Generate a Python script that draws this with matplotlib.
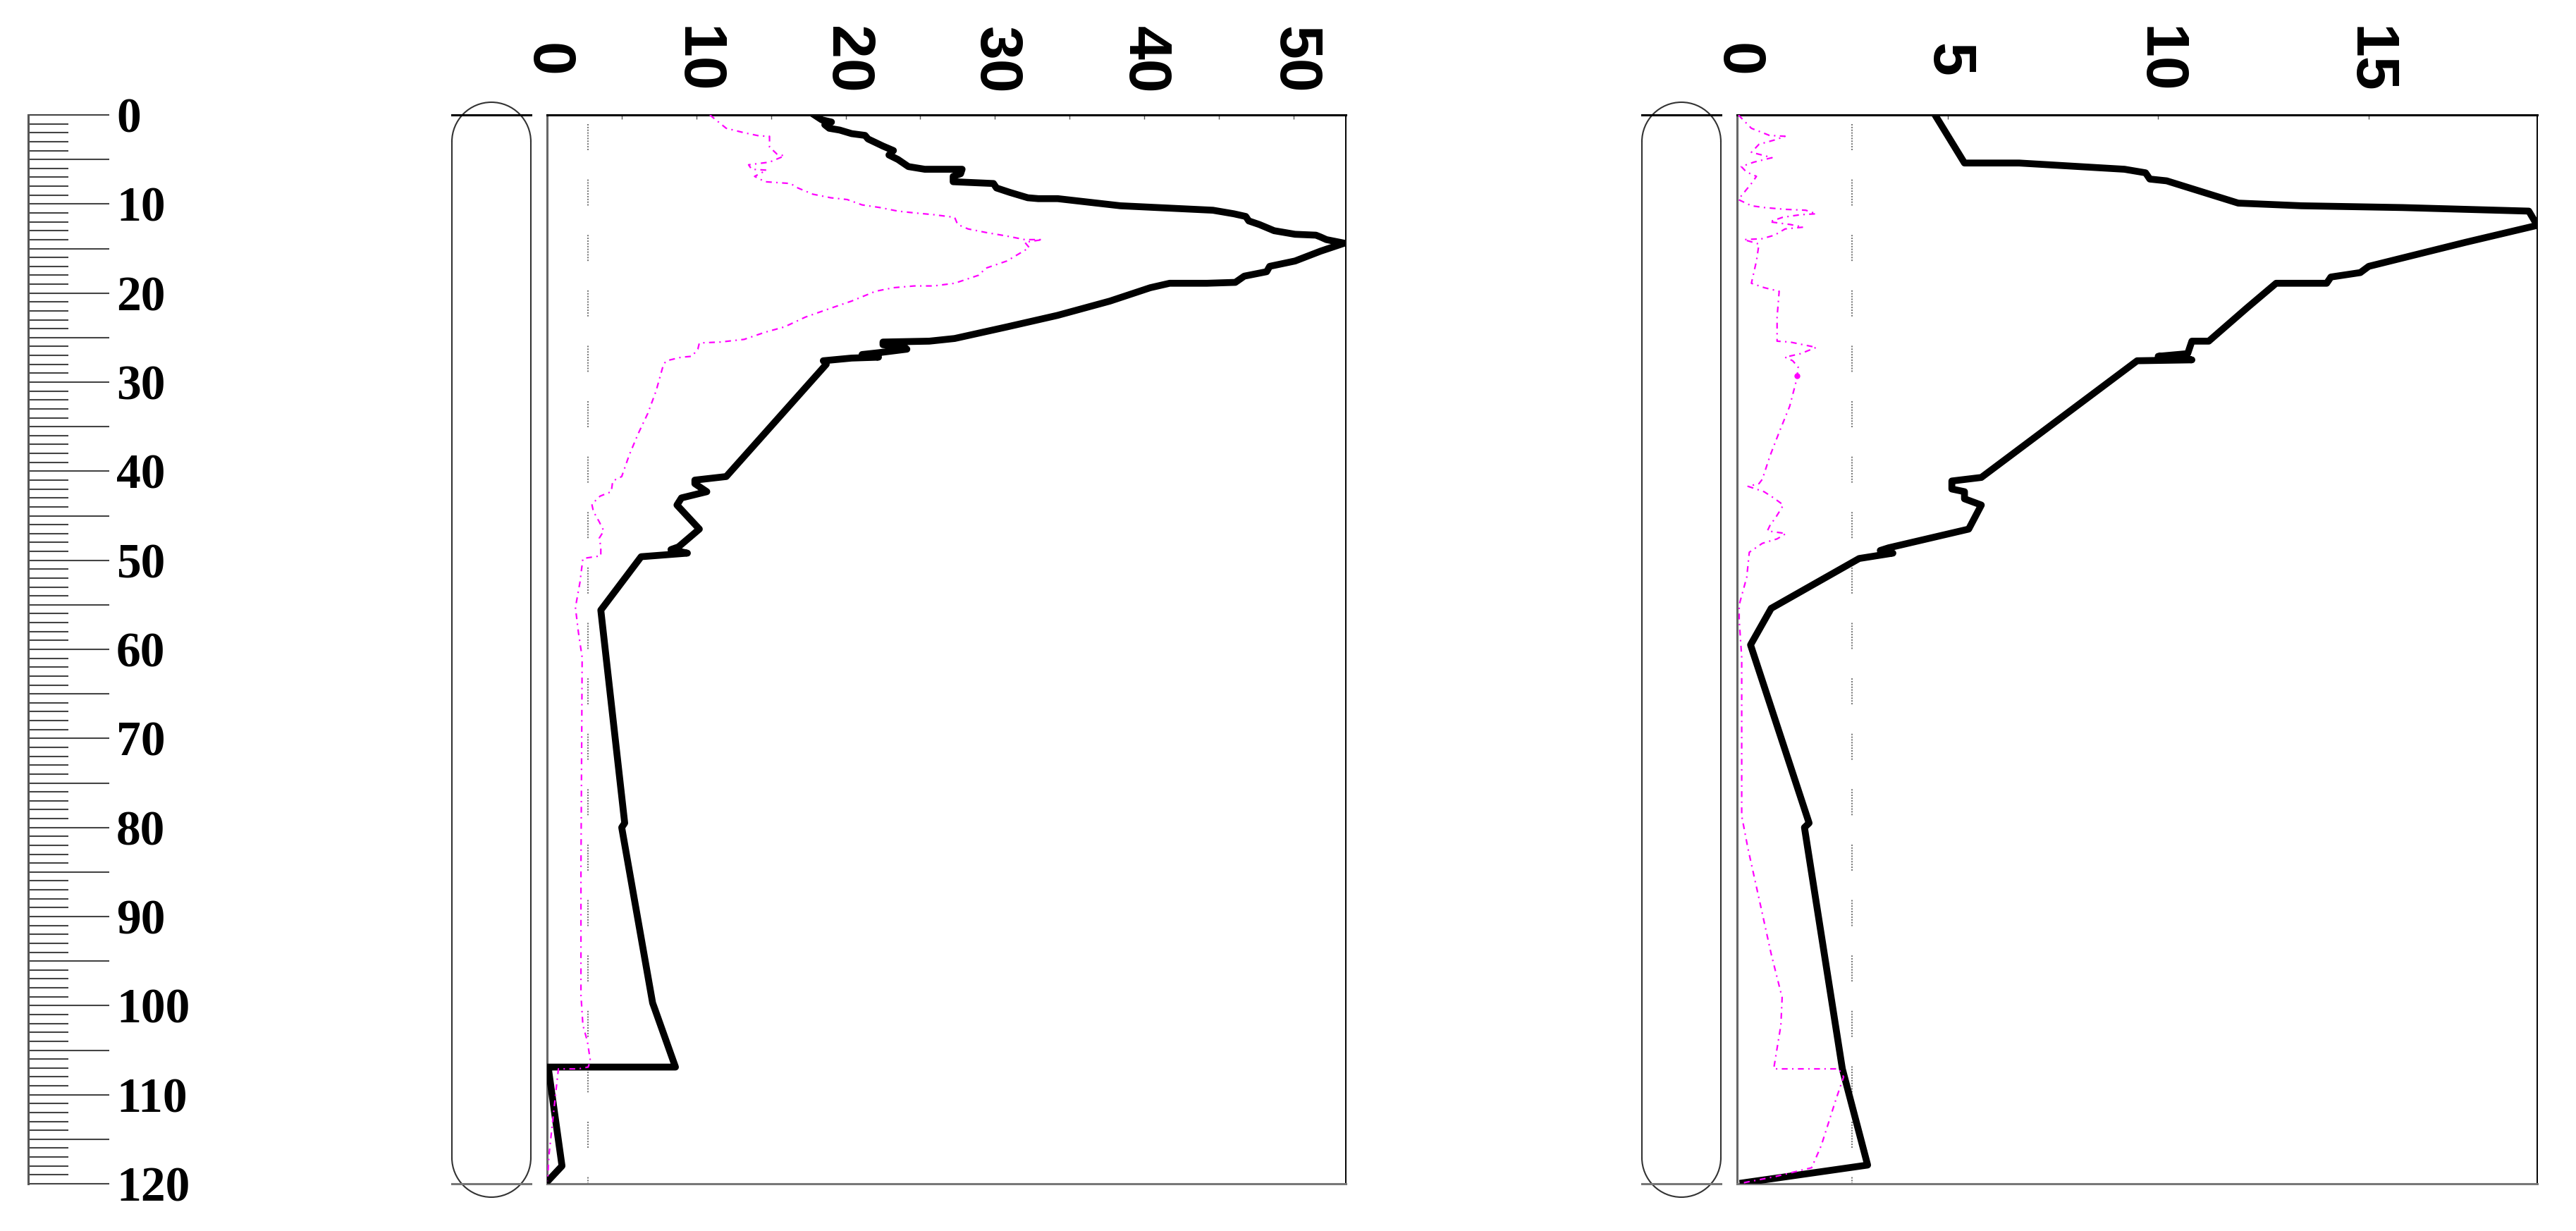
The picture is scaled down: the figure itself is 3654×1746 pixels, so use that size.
import matplotlib
matplotlib.use("Agg")
import matplotlib.pyplot as plt
from matplotlib.patches import Arc
from matplotlib.ticker import MultipleLocator, FuncFormatter

W, H, DPI = 3655, 1746, 100

# ---- data: depth (top down) and value ----
max_depth = 120

left_black_depth = [0.0, 0.55, 0.8, 1.1, 1.5, 1.7, 2.1, 2.3, 2.7, 3.5, 4.0, 4.5, 5.0, 5.8,
                    6.1, 6.1, 6.6, 6.9, 7.5, 7.7, 8.2, 8.7, 9.3, 9.4, 9.4, 9.8, 10.2, 10.7,
                    11.1, 11.4, 11.9, 12.3, 13.0, 13.4, 13.5, 13.7, 14.0, 14.4, 15.3, 16.4,
                    17.0, 17.6, 18.1, 18.8, 18.9, 18.9, 19.4, 20.9, 22.5, 23.8, 25.1, 25.4,
                    25.5, 25.8, 26.0, 26.3, 26.7, 26.9, 27.2, 27.3, 27.6, 28.0, 40.6, 41.0,
                    41.4, 42.3, 43.0, 43.8, 46.5, 48.5, 48.8, 49.2, 49.6, 55.6, 79.5, 80.0,
                    99.7, 100.3, 106.9, 106.9, 107.2, 118.0, 119.7]
left_black_val = [17.9, 18.4, 19.05, 18.6, 18.9, 19.6, 20.4, 21.3, 21.5, 22.5, 23.2, 22.9, 23.5, 24.2,
                  25.3, 27.8, 27.7, 27.2, 27.2, 29.9, 30.1, 31.0, 32.2, 32.9, 34.2, 36.3, 38.4, 44.6,
                  46.0, 46.8, 47.0, 47.7, 48.7, 50.1, 51.5, 51.8, 52.2, 53.4, 51.8, 50.1,
                  48.4, 48.2, 46.7, 46.1, 44.2, 41.7, 40.4, 37.7, 34.2, 30.8, 27.3, 25.6,
                  22.5, 22.5, 23.9, 24.1, 22.2, 21.1, 22.2, 20.4, 18.5, 18.7, 12.0, 9.9,
                  9.9, 10.7, 9.0, 8.7, 10.2, 8.8, 8.3, 9.4, 6.3, 3.6, 5.2, 5.0,
                  7.07, 7.2, 8.6, 0.0, 0.1, 1.0, 0.05]

left_pink_depth = [0.0, 1.5, 2.0, 2.35, 2.4, 3.6, 4.4, 4.6, 5.3, 5.6, 6.1, 6.2, 6.9, 7.5, 7.7,
                   8.2, 8.9, 9.3, 9.5, 10.1, 10.4, 10.8, 11.0, 11.2, 11.5, 12.3, 12.8, 13.2,
                   13.6, 14.0, 14.0, 14.3, 14.9, 15.7, 16.4, 17.2, 18.0, 18.9, 19.2, 19.2,
                   19.4, 19.8, 20.9, 21.7, 22.7, 23.8, 24.4, 25.2, 25.5, 25.6, 26.3, 27.1,
                   27.2, 27.6, 28.0, 31.0, 33.5, 35.8, 38.2, 40.6, 41.1, 42.3, 42.8, 43.7,
                   44.5, 45.7, 46.7, 47.5, 48.5, 49.5, 49.8, 52.5, 55.3, 58.1, 60.9, 84.9,
                   98.8, 102.2, 104.0, 106.2, 106.9, 107.1, 107.1, 109.5, 113.2, 116.9, 119.7]
left_pink_val = [10.9, 12.0, 13.2, 14.2, 14.9, 14.9, 15.4, 15.9, 14.9, 13.5, 13.7, 14.7, 13.9, 14.6, 16.3,
                 16.8, 17.8, 19.0, 20.1, 21.1, 22.3, 23.5, 24.6, 25.9, 27.3, 27.5, 28.2, 29.4,
                 30.8, 32.0, 33.2, 32.0, 32.3, 31.5, 30.8, 29.4, 28.9, 27.3, 25.9, 24.6,
                 23.2, 22.0, 20.4, 19.0, 17.3, 15.9, 14.6, 13.2, 11.6, 10.2, 10.1, 9.7,
                 9.0, 8.0, 7.8, 7.3, 6.75, 6.1, 5.5, 5.0, 4.4, 4.3, 3.55, 3.0,
                 3.1, 3.5, 3.8, 3.5, 3.6, 3.6, 2.4, 2.2, 1.9, 2.1, 2.35, 2.27,
                 2.27, 2.4, 2.7, 2.9, 2.75, 2.1, 0.76, 0.6, 0.36, 0.12, 0.04]

right_black_depth = [0.0, 5.4, 5.4, 6.1, 6.5, 7.2, 7.4, 9.9, 10.2, 10.4, 10.8, 12.4, 14.3, 17.0,
                     17.7, 18.2, 18.9, 18.9, 21.7, 25.4, 25.4, 26.8, 27.1, 27.5, 27.6, 40.7,
                     41.1, 42.0, 42.3, 43.1, 43.8, 46.5, 48.6, 48.9, 49.2, 49.8, 55.4, 59.5,
                     79.5, 80.0, 107.1, 117.9, 119.9]
right_black_val = [4.7, 5.4, 6.7, 9.2, 9.7, 9.8, 10.2, 11.9, 13.4, 15.8, 18.8, 19.0, 17.3, 15.0,
                   14.8, 14.1, 14.0, 12.8, 12.1, 11.2, 10.8, 10.7, 10.0, 10.8, 9.5, 5.8,
                   5.1, 5.1, 5.4, 5.4, 5.8, 5.5, 3.6, 3.4, 3.7, 2.9, 0.81, 0.32,
                   1.71, 1.6, 2.5, 3.1, 0.14]

right_pink_depth = [0.0, 1.5, 2.3, 2.4, 2.8, 3.3, 4.2, 4.5, 4.8, 5.3, 5.8, 6.4, 6.9, 7.7, 9.5,
                    10.2, 10.4, 10.6, 10.7, 11.1, 11.2, 11.5, 12.0, 12.3, 12.6, 12.8, 13.5,
                    13.9, 14.0, 14.5, 16.4, 18.9, 19.4, 19.8, 22.7, 25.4, 25.5, 26.1, 26.8,
                    27.2, 27.6, 28.3, 29.6, 32.7, 35.5, 38.3, 40.9, 41.4, 41.7, 42.3, 43.0,
                    43.8, 45.1, 46.1, 46.7, 47.0, 47.6, 48.1, 49.1, 51.9, 55.0, 56.7, 60.9,
                    78.7, 82.4, 88.6, 94.2, 99.1, 102.2, 107.1, 107.1, 107.1, 108.0, 110.5,
                    115.7, 118.2, 119.2, 119.9]
right_pink_val = [0.03, 0.34, 0.77, 1.14, 0.9, 0.52, 0.34, 0.59, 0.83, 0.4, 0.1, 0.22, 0.46, 0.34, 0.03,
                  0.34, 0.65, 1.14, 1.63, 1.88, 1.51, 1.08, 0.77, 1.26, 1.57, 1.14, 0.89,
                  0.59, 0.16, 0.52, 0.46, 0.34, 0.65, 1.0, 0.95, 0.95, 1.26, 1.88, 1.51,
                  1.14, 1.32, 1.45, 1.42, 1.25, 1.01, 0.78, 0.6, 0.52, 0.26, 0.64, 0.87,
                  1.1, 0.93, 0.78, 0.72, 1.16, 0.95, 0.6, 0.29, 0.23, 0.05, 0.05, 0.11,
                  0.11, 0.26, 0.55, 0.81, 1.07, 1.04, 0.87, 1.6, 2.41, 2.53, 2.35,
                  2.0, 1.77, 0.9, 0.14]

right_dot_depth = [29.3]
right_dot_val = [1.42]

left_limit = 2.75
right_limit = 2.73

left_xmax = 53.5
right_xmax = 19.0

plt.rcParams["lines.scale_dashes"] = False
plt.rcParams["font.weight"] = "bold"

fig = plt.figure(figsize=(W / DPI, H / DPI), dpi=DPI)

TOP, BOTTOM = 163, 1679


def px_rect(x0, x1):
    return [x0 / W, 1 - BOTTOM / H, (x1 - x0) / W, (BOTTOM - TOP) / H]


# ===== depth ruler =====
ax_r = fig.add_axes(px_rect(0, 40))
ax_r.set_ylim(max_depth, 0)
ax_r.set_xticks([])
for s in ["left", "top", "bottom"]:
    ax_r.spines[s].set_visible(False)
ax_r.spines["right"].set_linewidth(2.2)
ax_r.spines["right"].set_color("#555555")
ax_r.patch.set_visible(False)
ax_r.yaxis.tick_right()
ax_r.yaxis.set_major_locator(MultipleLocator(5))
ax_r.yaxis.set_minor_locator(MultipleLocator(1))
ax_r.yaxis.set_major_formatter(FuncFormatter(lambda v, p: f"{v:.0f}" if v % 10 == 0 else ""))
ax_r.tick_params(axis="y", which="major", direction="out", length=83, width=1.5,
                 color="#444444", pad=7, labelsize=50, labelfontfamily="Liberation Serif")
ax_r.tick_params(axis="y", which="minor", direction="out", length=41, width=1.5, color="#444444")

# ===== profile panels =====
overlay = fig.add_axes([0, 0, 1, 1])
overlay.set_xlim(0, W)
overlay.set_ylim(H, 0)
overlay.axis("off")


def capsule(x0, x1, y0, y1):
    r = (x1 - x0) / 2
    cx = (x0 + x1) / 2
    kw = dict(color="#333333", lw=1.5)
    overlay.add_patch(Arc((cx, y0 + r), 2 * r, 2 * r, theta1=180, theta2=360, **kw))
    overlay.add_patch(Arc((cx, y1 - r), 2 * r, 2 * r, theta1=0, theta2=180, **kw))
    overlay.plot([x0, x0], [y0 + r, y1 - r], **kw)
    overlay.plot([x1, x1], [y0 + r, y1 - r], **kw)


def panel(x0, x1, xmax, major, minor, bd, bv, pd_, pv, limit):
    ax = fig.add_axes(px_rect(x0, x1))
    ax.set_xlim(0, xmax)
    ax.set_ylim(max_depth, 0)
    ax.set_yticks([])
    ax.xaxis.tick_top()
    ax.xaxis.set_major_locator(MultipleLocator(major))
    if minor:
        ax.xaxis.set_minor_locator(MultipleLocator(minor))
    ax.tick_params(axis="x", which="both", direction="in", length=4, width=1, color="#555555")
    ax.tick_params(axis="x", which="major", pad=56, labelsize=62, labelrotation=-90,
                   labelfontfamily="Liberation Sans")
    for lab in ax.get_xticklabels():
        lab.set_va("center")
        lab.set_rotation_mode("anchor")

    ax.spines["top"].set_linewidth(2.2)
    ax.spines["right"].set_linewidth(1.4)
    ax.spines["left"].set_linewidth(2.2)
    ax.spines["left"].set_color("#666666")
    ax.spines["bottom"].set_linewidth(2.2)
    ax.spines["bottom"].set_color("#777777")

    ax.plot(bv, bd, color="black", lw=7, zorder=3)
    dots = [1.4, 1.4] * 10
    dots[-1] = 30
    ax.plot([limit, limit], [1, max_depth], color="#777777", lw=1.5, dashes=dots, zorder=2)
    ax.plot(pv, pd_, color="#ff00ff", lw=1.6, dashes=(6, 4.5, 1.5, 4.5), zorder=4)

    # capsule shape beside the panel, crossed by the panel's top and bottom lines
    cx0, cx1 = x0 - 135, x0 - 23
    capsule(cx0, cx1, TOP - 18, BOTTOM + 19)
    overlay.plot([cx0, cx1], [TOP, TOP], color="black", lw=2.2)
    overlay.plot([cx0, cx1], [BOTTOM, BOTTOM], color="#777777", lw=2.2)
    return ax


ax_l = panel(776, 1909, left_xmax, 10, 5, left_black_depth, left_black_val,
             left_pink_depth, left_pink_val, left_limit)
ax_rt = panel(2464, 3599, right_xmax, 5, None, right_black_depth, right_black_val,
              right_pink_depth, right_pink_val, right_limit)
ax_rt.plot(right_dot_val, right_dot_depth, "o", color="#ff00ff", ms=5, zorder=5)

fig.savefig("out.png", dpi=DPI)
